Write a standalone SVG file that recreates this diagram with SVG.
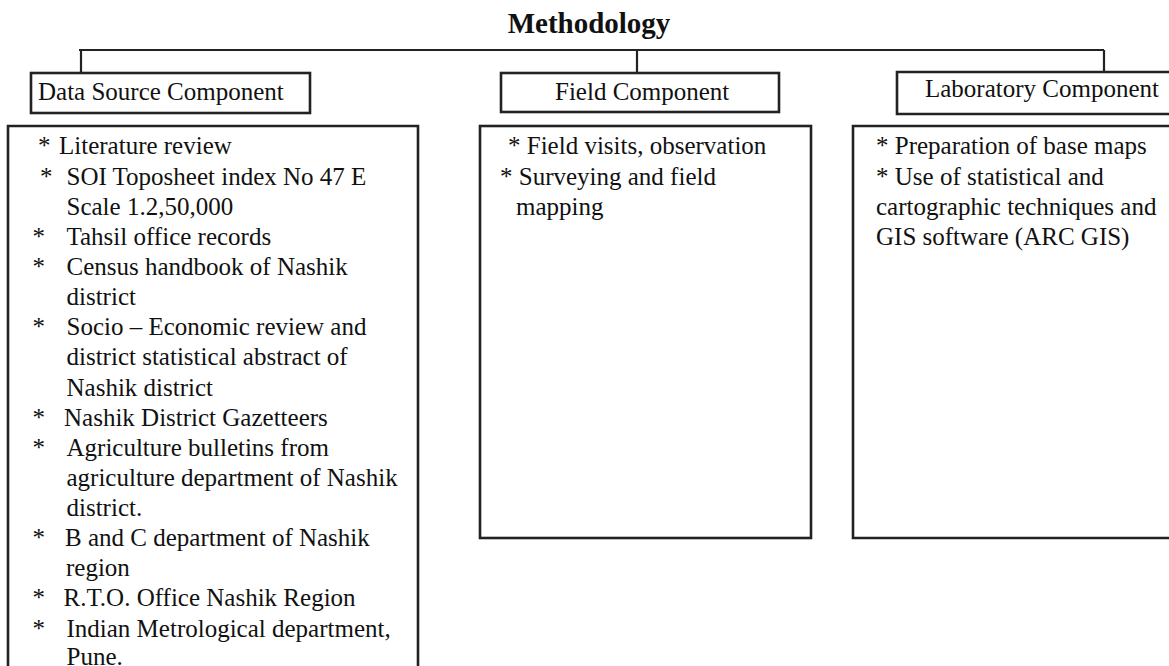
<svg xmlns="http://www.w3.org/2000/svg" width="1169" height="666" viewBox="0 0 1169 666">
<style>
  .t { font-family: "Liberation Serif", "Times New Roman", serif; font-size: 25px; fill: #111; }
  .title { font-family: "Liberation Serif", "Times New Roman", serif; font-size: 29px; font-weight: bold; fill: #111; }
  .box { fill: none; stroke: #222; stroke-width: 2.6; }
  .conn { fill: none; stroke: #222; stroke-width: 2.2; }
</style>
<rect x="0" y="0" width="1169" height="666" fill="#ffffff"/>
<text class="title" x="589" y="33" text-anchor="middle">Methodology</text>
<g id="connectors">
  <path class="conn" d="M79,50 H1104 M81,50 V73 M637,50 V73 M1104,50 V72"/>
</g>
<g id="data-source-label">
  <rect class="box" x="31" y="73" width="279" height="40"/>
  <text class="t" x="38" y="100">Data Source Component</text>
</g>
<g id="field-label">
  <rect class="box" x="501" y="73" width="278" height="39"/>
  <text class="t" x="555" y="100">Field Component</text>
</g>
<g id="laboratory-label">
  <path class="box" d="M1172,72 H897 V114 H1172" stroke-width="2"/>
  <text class="t" x="925" y="97">Laboratory Component</text>
</g>
<g id="data-source-box">
  <path class="box" d="M8,670 V126 H418 V670"/>
  <text class="t" x="38" y="154.3">*</text><text class="t" x="59" y="154.3">Literature review</text>
  <text class="t" x="40" y="184.5">*</text><text class="t" x="66.5" y="184.5">SOI Toposheet index No 47 E</text>
  <text class="t" x="66.5" y="214.6">Scale 1.2,50,000</text>
  <text class="t" x="32.5" y="244.8">*</text><text class="t" x="66.5" y="244.8">Tahsil office records</text>
  <text class="t" x="32.5" y="275">*</text><text class="t" x="66.5" y="275">Census handbook of Nashik</text>
  <text class="t" x="66.5" y="305">district</text>
  <text class="t" x="32.5" y="335">*</text><text class="t" x="66.5" y="335">Socio – Economic review and</text>
  <text class="t" x="66.5" y="365.4">district statistical abstract of</text>
  <text class="t" x="66.5" y="395.5">Nashik district</text>
  <text class="t" x="32.5" y="425.7">*</text><text class="t" x="64" y="425.7">Nashik District Gazetteers</text>
  <text class="t" x="32.5" y="455.8">*</text><text class="t" x="66.5" y="455.8">Agriculture bulletins from</text>
  <text class="t" x="66.5" y="486">agriculture department of Nashik</text>
  <text class="t" x="66.5" y="516">district.</text>
  <text class="t" x="32.5" y="546">*</text><text class="t" x="65" y="546">B and C department of Nashik</text>
  <text class="t" x="66" y="576">region</text>
  <text class="t" x="32.5" y="606.3">*</text><text class="t" x="63.5" y="606.3">R.T.O. Office Nashik Region</text>
  <text class="t" x="32.5" y="636.5">*</text><text class="t" x="66.5" y="636.5">Indian Metrological department,</text>
  <text class="t" x="66.5" y="665">Pune.</text>
</g>
<g id="field-box">
  <rect class="box" x="480" y="126" width="331" height="412"/>
  <text class="t" x="508" y="154.3">* Field visits, observation</text>
  <text class="t" x="500" y="184.5">* Surveying and field</text>
  <text class="t" x="516" y="214.6">mapping</text>
</g>
<g id="laboratory-box">
  <path class="box" d="M1172,126 H853 V538 H1172"/>
  <text class="t" x="876" y="154.3">* Preparation of base maps</text>
  <text class="t" x="876" y="184.5">* Use of statistical and</text>
  <text class="t" x="876" y="214.6">cartographic techniques and</text>
  <text class="t" x="876" y="244.8">GIS software (ARC GIS)</text>
</g>
</svg>
